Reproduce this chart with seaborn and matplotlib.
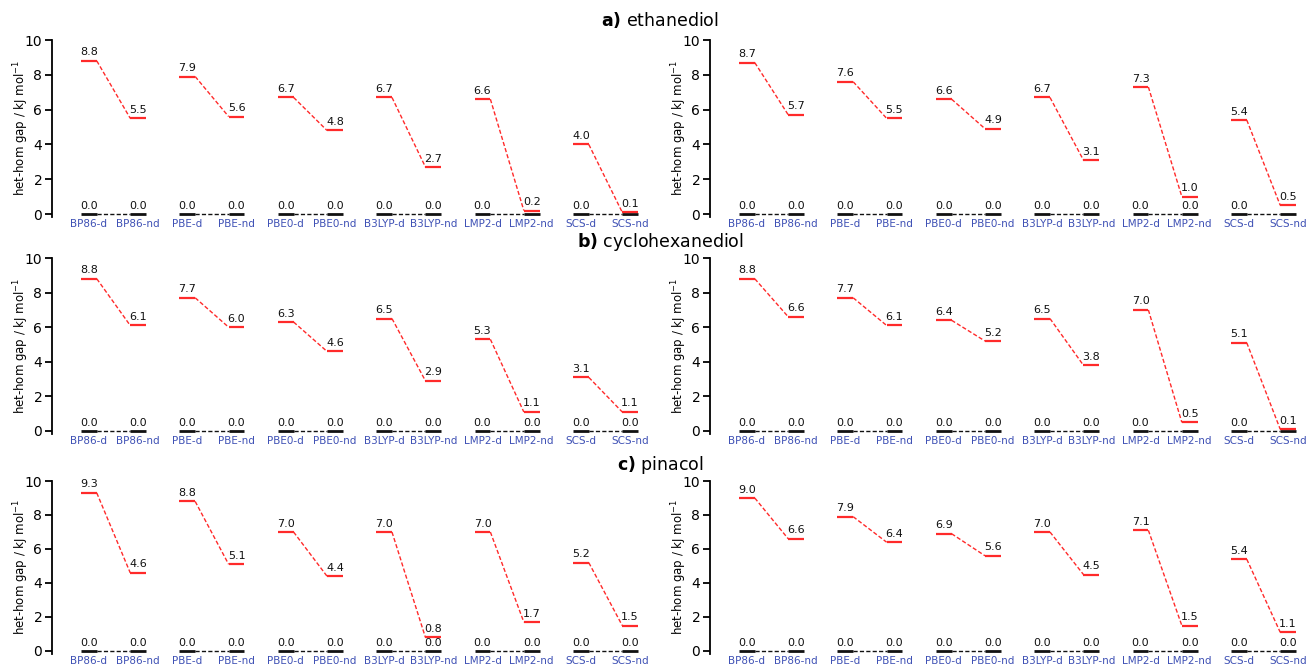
import matplotlib
matplotlib.use("Agg")
import matplotlib.pyplot as plt
import numpy as np
import pandas as pd
import seaborn as sns

# ---------------- data ----------------
methods = ["BP86", "PBE", "PBE0", "B3LYP", "LMP2", "SCS"]
tick_labels = [f"{m}-{s}" for m in methods for s in ("d", "nd")]
row_titles = [("a)", "ethanediol"), ("b)", "cyclohexanediol"), ("c)", "pinacol")]

eth_left_d = [8.8, 7.9, 6.7, 6.7, 6.6, 4.0]
eth_left_nd = [5.5, 5.6, 4.8, 2.7, 0.2, 0.1]
eth_right_d = [8.7, 7.6, 6.6, 6.7, 7.3, 5.4]
eth_right_nd = [5.7, 5.5, 4.9, 3.1, 1.0, 0.5]
cyc_left_d = [8.8, 7.7, 6.3, 6.5, 5.3, 3.1]
cyc_left_nd = [6.1, 6.0, 4.6, 2.9, 1.1, 1.1]
cyc_right_d = [8.8, 7.7, 6.4, 6.5, 7.0, 5.1]
cyc_right_nd = [6.6, 6.1, 5.2, 3.8, 0.5, 0.1]
pin_left_d = [9.3, 8.8, 7.0, 7.0, 7.0, 5.2]
pin_left_nd = [4.6, 5.1, 4.4, 0.8, 1.7, 1.5]
pin_right_d = [9.0, 7.9, 6.9, 7.0, 7.1, 5.4]
pin_right_nd = [6.6, 6.4, 5.6, 4.5, 1.5, 1.1]
reference_level = [0.0] * 6

panels = [
    [(eth_left_d, eth_left_nd), (eth_right_d, eth_right_nd)],
    [(cyc_left_d, cyc_left_nd), (cyc_right_d, cyc_right_nd)],
    [(pin_left_d, pin_left_nd), (pin_right_d, pin_right_nd)],
]

# ---------------- style ----------------
sns.set_theme(style="ticks")
plt.rcParams["font.family"] = ["DejaVu Sans"]
plt.rcParams["text.color"] = "black"
plt.rcParams["axes.labelcolor"] = "black"
plt.rcParams["ytick.color"] = "black"

W, H = 1309, 667
fig = plt.figure(figsize=(W / 100, H / 100), dpi=100)

RED = "#ff2a2a"
BLACK = "#111111"
BLUE = "#3f51b5"
HW = 0.16  # half width of a level bar (data units)

rows_px = [(40, 214), (258, 431), (481, 651)]
cols_px = [52, 710]
XMIN, XMAX = -0.75, 11.35
PX_PER_UNIT = 49.2
width_px = (XMAX - XMIN) * PX_PER_UNIT
YMIN, YMAX = -0.15, 10.0
VAL_FS = 8


def draw_levels(ax, d_vals, nd_vals, color, lw, conn_lw, z):
    xd = np.arange(6) * 2
    xn = xd + 1
    ax.hlines(d_vals, xd - HW, xd + HW, colors=color, lw=lw, zorder=z)
    ax.hlines(nd_vals, xn - HW, xn + HW, colors=color, lw=lw, zorder=z)
    rows = []
    for i in range(6):
        rows.append({"x": xd[i] + HW, "y": d_vals[i], "pair": i})
        rows.append({"x": xn[i] - HW, "y": nd_vals[i], "pair": i})
    df = pd.DataFrame(rows)
    sns.lineplot(data=df, x="x", y="y", units="pair", estimator=None,
                 sort=False, color=color, lw=conn_lw, linestyle=(0, (3, 1.6)),
                 ax=ax, zorder=z - 0.5, legend=False)


def label(ax, x, v):
    ax.annotate(f"{v:.1f}", (x, v), xytext=(0, 2.5), textcoords="offset points",
                ha="center", va="bottom", fontsize=VAL_FS, color=BLACK, zorder=6)


for r, (ytop, y0) in enumerate(rows_px):
    unit = (y0 - ytop) / YMAX
    ybot = y0 - YMIN * unit
    for c, x0 in enumerate(cols_px):
        d_vals, nd_vals = panels[r][c]
        ax = fig.add_axes([x0 / W, 1 - ybot / H, width_px / W, (ybot - ytop) / H])
        draw_levels(ax, reference_level, reference_level, BLACK, 2.0, 1.0, 3)
        draw_levels(ax, d_vals, nd_vals, RED, 1.6, 1.0, 5)
        for i in range(6):
            xd, xn = 2 * i, 2 * i + 1
            label(ax, xd, reference_level[i])
            if nd_vals[i] >= 0.6:
                label(ax, xn, reference_level[i])
            label(ax, xd, d_vals[i])
            label(ax, xn, nd_vals[i])

        ax.set_xlim(XMIN, XMAX)
        ax.set_ylim(YMIN, YMAX)
        ax.set_xticks(range(12))
        ax.set_xticklabels(tick_labels, color=BLUE, fontsize=7.5)
        ax.set_yticks([0, 2, 4, 6, 8, 10])
        ax.tick_params(axis="x", length=0, pad=2)
        ax.tick_params(axis="y", labelsize=10, length=5, width=1.3, pad=2)
        for s in ("top", "right", "bottom"):
            ax.spines[s].set_visible(False)
        ax.spines["left"].set_linewidth(1.3)
        ax.spines["left"].set_color("black")
        ax.set_xlabel("")
        ax.set_ylabel("het-hom gap / kJ mol$^{-1}$", fontsize=8.5)
        ax.yaxis.set_label_coords(-21 / width_px, 0.5)
        ax.patch.set_alpha(0)

title_y = [20, 242, 465]
for (lab, name), ty in zip(row_titles, title_y):
    fig.text(660 / W, 1 - ty / H, r"$\bf{" + lab + "}$ " + name,
             ha="center", va="center", fontsize=12.5, color="black")

fig.savefig("out.png", dpi=100)
